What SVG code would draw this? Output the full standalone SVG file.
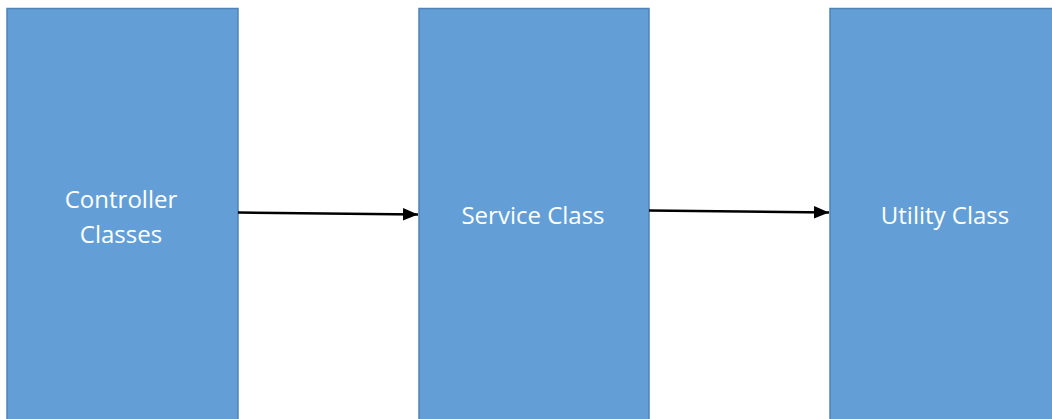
<svg xmlns="http://www.w3.org/2000/svg" width="1052" height="419" viewBox="0 0 1052 419">
<style>
.box{fill:#639fd6;stroke:#4f82b8;stroke-width:1.5}
.lbl{fill:#ffffff;font-family:"Open Sans","Liberation Sans",sans-serif;font-size:24px;text-anchor:middle}
.conn{stroke:#000;stroke-width:2.5;fill:none}
</style>
<defs>
<marker id="ah" viewBox="0 0 12 10" refX="12" refY="5" markerWidth="6" markerHeight="5.5" orient="auto" markerUnits="strokeWidth">
<path d="M0,0 L12,5 L0,10 z" fill="#000"/>
</marker>
</defs>
<rect width="1052" height="419" fill="#fff"/>
<g id="controller">
<rect class="box" x="7" y="8.5" width="231" height="420"/>
<text class="lbl" x="121" y="208">Controller</text>
<text class="lbl" x="121" y="243">Classes</text>
</g>
<g id="service">
<rect class="box" x="419" y="8.5" width="230" height="420"/>
<text class="lbl" x="533" y="224">Service Class</text>
</g>
<g id="utility">
<rect class="box" x="830" y="8.5" width="231" height="420"/>
<text class="lbl" x="945" y="224">Utility Class</text>
</g>
<g id="connectors">
<line class="conn" x1="238" y1="212.5" x2="418" y2="214.5" marker-end="url(#ah)"/>
<line class="conn" x1="649" y1="210.5" x2="829" y2="212.5" marker-end="url(#ah)"/>
</g>
</svg>
